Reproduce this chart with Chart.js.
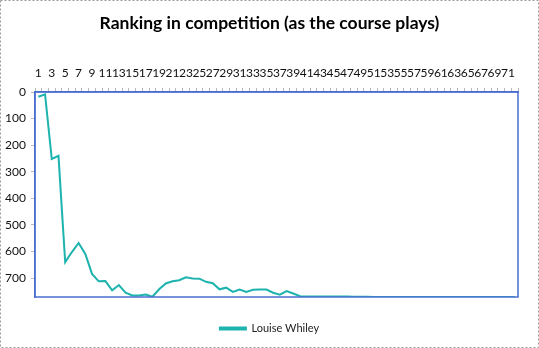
<!DOCTYPE html>
<html>
<head>
<meta charset="utf-8">
<script src="https://cdn.jsdelivr.net/npm/chart.js@4"></script>
<style>
html,body{margin:0;padding:0;background:#fff;}
#wrap{width:539px;height:348px;position:relative;}
</style>
</head>
<body>
<div id="wrap"><canvas id="c" width="539" height="348"></canvas></div>
<script>
const title = 'Ranking in competition (as the course plays)';
const seriesName = 'Louise Whiley';
const categories = [];
for (let i = 1; i <= 72; i++) categories.push(String(i));
const rankings = [
  18, 9, 252, 240, 640, 602, 568, 609, 684, 712,
  711, 746, 726, 755, 765, 765, 762, 770, 742, 720,
  712, 708, 697, 701, 702, 714, 719, 742, 736, 752,
  743, 752, 744, 743, 743, 755, 762, 749, 758, 768,
  769, 769, 769, 769, 769, 769, 769, 770, 770, 770,
  771, 771, 771, 771, 771, 771, 771, 771, 771, 771,
  771, 771, 771, 771, 771, 771, 771, 771, 771, 771,
  771, 771
];
const yTicks = [0, 100, 200, 300, 400, 500, 600, 700];
const yMax = 771;

const FONT = 'Lato, "Open Sans", sans-serif';

const framePlugin = {
  id: 'frame',
  afterDraw(chart) {
    const ctx = chart.ctx;
    const a = chart.chartArea;
    ctx.save();
    ctx.strokeStyle = '#4a6fd0';
    ctx.lineWidth = 1.5;
    ctx.strokeRect(a.left, a.top, a.right - a.left, a.bottom - a.top);
    ctx.strokeStyle = '#9a9a9a';
    ctx.lineWidth = 1;
    ctx.setLineDash([2, 2]);
    ctx.strokeRect(0.5, 0.5, chart.width - 1, chart.height - 1);
    ctx.restore();
  }
};

new Chart(document.getElementById('c'), {
  type: 'line',
  data: {
    labels: categories,
    datasets: [{
      label: seriesName,
      data: rankings,
      borderColor: '#1db3ae',
      backgroundColor: '#1db3ae',
      borderWidth: 2,
      pointRadius: 0,
      tension: 0,
      fill: false
    }]
  },
  options: {
    responsive: false,
    animation: false,
    layout: { padding: { left: 0, right: 0, top: 8, bottom: 4 } },
    plugins: {
      title: {
        display: true,
        text: title,
        color: '#000',
        font: { family: FONT, size: 17.5, weight: 'bold' },
        padding: { top: 5, bottom: 22 }
      },
      legend: {
        display: true,
        position: 'bottom',
        labels: {
          color: '#222',
          font: { family: FONT, size: 11 },
          boxWidth: 26,
          boxHeight: 2,
          padding: 26
        }
      },
      tooltip: { enabled: false }
    },
    scales: {
      x: {
        position: 'top',
        offset: true,
        border: { display: true, color: '#4a6fd0', width: 1.5 },
        grid: { display: true, drawOnChartArea: false, offset: true, tickLength: 4, color: '#b8b8b8' },
        ticks: {
          autoSkip: false,
          maxRotation: 0,
          minRotation: 0,
          padding: 8,
          color: '#111',
          font: { family: FONT, size: 12 },
          callback: function(v, i) { return i % 2 === 0 ? this.getLabelForValue(v) : ''; }
        },
        afterFit(s) { s.height = 36; }
      },
      y: {
        reverse: true,
        min: 0,
        max: yMax,
        border: { display: true, color: '#4a6fd0', width: 1.5 },
        grid: { display: true, drawOnChartArea: false, tickLength: 4, color: '#b8b8b8' },
        ticks: {
          color: '#111',
          font: { family: FONT, size: 12 },
          padding: 5
        },
        afterBuildTicks(s) { s.ticks = yTicks.map(v => ({ value: v })); },
        afterFit(s) { s.width = 35; }
      },
      ySpacer: {
        position: 'right',
        display: true,
        min: 0,
        max: yMax,
        border: { display: false },
        grid: { display: false },
        ticks: { display: false },
        afterFit(s) { s.width = 21; }
      }
    }
  },
  plugins: [framePlugin]
});
</script>
</body>
</html>
